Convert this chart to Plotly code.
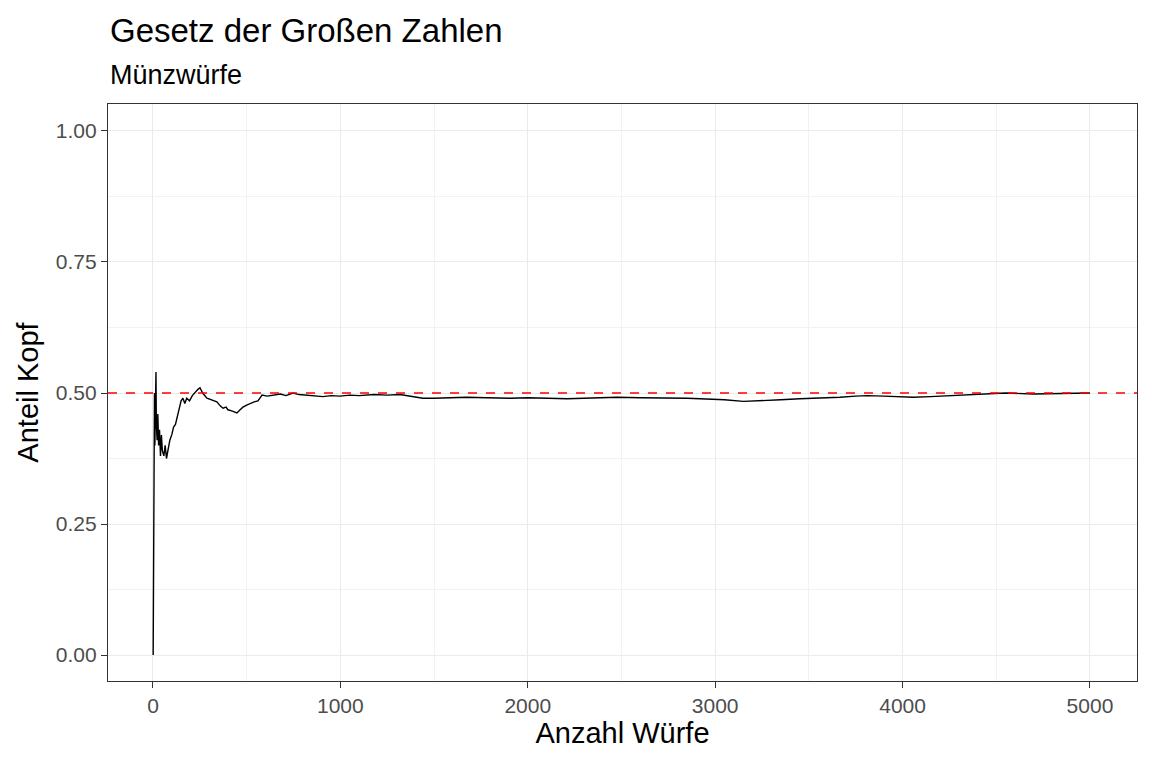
import plotly.graph_objects as go

# cumulative share of heads after n coin tosses
wuerfe = [1, 3, 5, 8, 10, 14, 16, 18, 22, 26, 30, 35, 40, 45, 50, 58, 65, 72, 80, 90,
          100, 110, 120, 130, 140, 150, 160, 170, 180, 195, 210, 225, 240, 251, 265, 288,
          310, 341, 360, 374, 390, 400, 420, 448, 465, 480, 500, 518, 540, 560, 582, 610,
          640, 680, 710, 747, 780, 822, 860, 907, 950, 998, 1050, 1100, 1180, 1250, 1318,
          1380, 1440, 1500, 1560, 1675, 1780, 1905, 2000, 2100, 2210, 2300, 2400, 2475,
          2600, 2743, 2850, 2919, 3050, 3150, 3250, 3350, 3452, 3560, 3666, 3750, 3810,
          3900, 3950, 4056, 4150, 4270, 4380, 4483, 4550, 4696, 4800, 4900, 5000]
anteil_kopf = [0.0, 0.33, 0.4, 0.5, 0.4, 0.5, 0.54, 0.44, 0.41, 0.46, 0.40, 0.43, 0.38, 0.42,
               0.39, 0.38, 0.40, 0.375, 0.39, 0.41, 0.42, 0.435, 0.44, 0.455, 0.47, 0.485,
               0.49, 0.48, 0.49, 0.485, 0.495, 0.502, 0.507, 0.51, 0.50, 0.49, 0.487, 0.483,
               0.475, 0.471, 0.473, 0.468, 0.466, 0.462, 0.468, 0.473, 0.477, 0.48, 0.483,
               0.485, 0.496, 0.494, 0.496, 0.498, 0.495, 0.500, 0.497, 0.496, 0.494, 0.493,
               0.495, 0.494, 0.496, 0.495, 0.497, 0.496, 0.497, 0.494, 0.490, 0.490, 0.491,
               0.492, 0.491, 0.490, 0.491, 0.490, 0.489, 0.490, 0.491, 0.492, 0.491, 0.491,
               0.490, 0.489, 0.487, 0.484, 0.485, 0.487, 0.489, 0.490, 0.492, 0.494, 0.495,
               0.494, 0.493, 0.492, 0.493, 0.495, 0.497, 0.499, 0.500, 0.498, 0.499, 0.499,
               0.500]

x_ticks = [0, 1000, 2000, 3000, 4000, 5000]
y_ticks = [0.0, 0.25, 0.5, 0.75, 1.0]
y_labels = ["0.00", "0.25", "0.50", "0.75", "1.00"]

fig = go.Figure()
fig.add_trace(go.Scatter(x=wuerfe, y=anteil_kopf, mode="lines",
                         line=dict(color="black", width=1.4), showlegend=False))

# reference line at 0.5
fig.add_hline(y=0.5, line=dict(color="red", width=1.6, dash="dash"))

font = "Liberation Sans, Arial, sans-serif"
fig.update_layout(
    width=1152, height=768,
    paper_bgcolor="white", plot_bgcolor="white",
    margin=dict(l=100, r=23, t=96, b=95),
    font=dict(family=font, color="black"),
)
fig.add_annotation(text="Gesetz der Großen Zahlen", xref="paper", yref="paper",
                   x=0, y=1.128, xanchor="left", yanchor="middle", showarrow=False,
                   font=dict(size=33, family=font))
fig.add_annotation(text="Münzwürfe", xref="paper", yref="paper", x=0, y=1.050,
                   xanchor="left", yanchor="middle", showarrow=False,
                   font=dict(size=27, family=font))

axis_common = dict(showline=True, linecolor="#333333", linewidth=1.2, mirror=True,
                   showgrid=True, gridcolor="#EBEBEB", gridwidth=1.3,
                   zeroline=False, ticks="outside", ticklen=6, tickcolor="#333333",
                   tickfont=dict(size=21, color="#4D4D4D", family=font),
                   minor=dict(showgrid=True, gridcolor="#F2F2F2", gridwidth=0.8))
fig.update_xaxes(axis_common, range=[-240, 5251], tickvals=x_ticks,
                 minor_tickvals=[500, 1500, 2500, 3500, 4500],
                 title=dict(text="Anzahl Würfe", font=dict(size=29), standoff=6))
fig.update_yaxes(axis_common, range=[-0.0496, 1.0515], tickvals=y_ticks, ticktext=y_labels,
                 minor_tickvals=[0.125, 0.375, 0.625, 0.875],
                 title=dict(text="Anteil Kopf", font=dict(size=29), standoff=8))

fig.write_html("out.html")
